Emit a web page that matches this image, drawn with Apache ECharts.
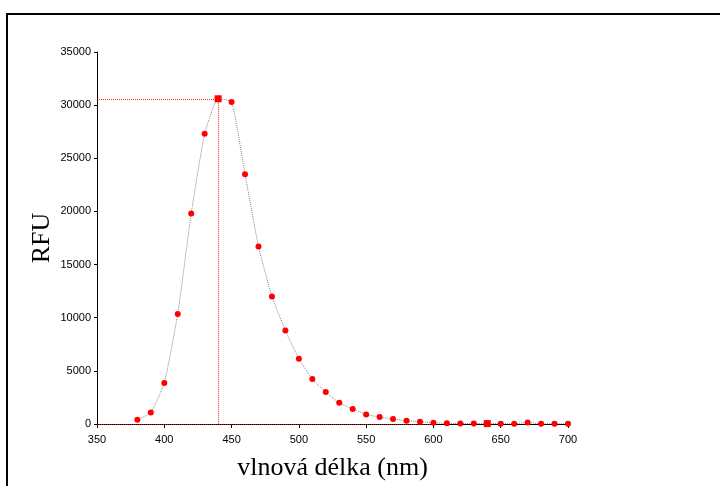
<!DOCTYPE html>
<html>
<head>
<meta charset="utf-8">
<script src="https://cdn.jsdelivr.net/npm/echarts@6/dist/echarts.min.js"></script>
<style>
  html, body { margin: 0; padding: 0; background: #fff; }
  #chart { width: 720px; height: 486px; }
</style>
</head>
<body>
<div id="chart"></div>
<script>
// emission spectrum
const wavelengths = [380, 390, 400, 410, 420, 430, 440, 450, 460, 470, 480, 490, 500, 510, 520, 530, 540,
  550, 560, 570, 580, 590, 600, 610, 620, 630, 640, 650, 660, 670, 680, 690, 700];
const rfu = [400, 1080, 3850, 10350, 19800, 27300, 30600, 30300, 23500, 16700, 12000, 8800, 6130, 4230, 3000,
  2000, 1400, 900, 650, 470, 310, 210, 120, 60, 50, 40, 40, 30, 30, 140, 20, 20, 20];
const peakWl = 440;
const peakRfu = 30600;
const squareWl = [440, 640];
const baselineEnd = 600;

const chart = echarts.init(document.getElementById("chart"));

const red = "#ff0000";
const axisFont = "Liberation Sans, Arial, sans-serif";
const titleFont = "Liberation Serif, Times New Roman, serif";

chart.setOption({
  backgroundColor: "#fff",
  animation: false,
  grid: { left: 97, top: 52, width: 471, bottom: 62 },
  graphic: [
    {
      type: "rect",
      shape: { x: 7, y: 14, width: 730, height: 490 },
      style: { fill: "none", stroke: "#000", lineWidth: 2 },
      silent: true,
    },
  ],
  xAxis: {
    type: "value",
    min: 350,
    max: 700,
    interval: 50,
    name: "vlnová délka (nm)",
    nameLocation: "middle",
    nameGap: 31,
    nameMoveOverlap: false,
    nameTextStyle: { fontFamily: titleFont, fontSize: 26, color: "#000" },
    axisLine: { lineStyle: { color: "#000", width: 1 } },
    axisTick: { length: 4, lineStyle: { color: "#000" } },
    axisLabel: { fontFamily: axisFont, fontSize: 11, color: "#000", margin: 10 },
    splitLine: { show: false },
  },
  yAxis: {
    type: "value",
    min: 0,
    max: 35000,
    interval: 5000,
    name: "RFU",
    nameLocation: "middle",
    nameGap: 42,
    nameMoveOverlap: false,
    nameTextStyle: { fontFamily: titleFont, fontSize: 26, color: "#000" },
    axisLine: { show: true, lineStyle: { color: "#000", width: 1 } },
    axisTick: { show: true, length: 3, lineStyle: { color: "#000" } },
    axisLabel: {
      fontFamily: axisFont,
      fontSize: 11,
      color: "#000",
      margin: 6,
      formatter: (v) => String(v),
    },
    splitLine: { show: false },
  },
  series: [
    {
      type: "line",
      smooth: 0.15,
      data: wavelengths.map((wl, i) => ({
        value: [wl, rfu[i]],
        symbol: squareWl.includes(wl) ? "rect" : "circle",
        symbolSize: squareWl.includes(wl) ? 7 : 6,
      })),
      itemStyle: { color: red },
      lineStyle: { color: "#888", width: 1, type: "dotted" },
      markLine: {
        silent: true,
        symbol: ["none", "none"],
        label: { show: false },
        lineStyle: { color: red, width: 1, type: "dotted", opacity: 0.85 },
        data: [
          [{ coord: [350, peakRfu] }, { coord: [peakWl, peakRfu] }],
          [{ coord: [peakWl, peakRfu] }, { coord: [peakWl, 0] }],
          [{ coord: [350, 0] }, { coord: [baselineEnd, 0] }],
        ],
      },
      z: 3,
    },
  ],
});
</script>
</body>
</html>
